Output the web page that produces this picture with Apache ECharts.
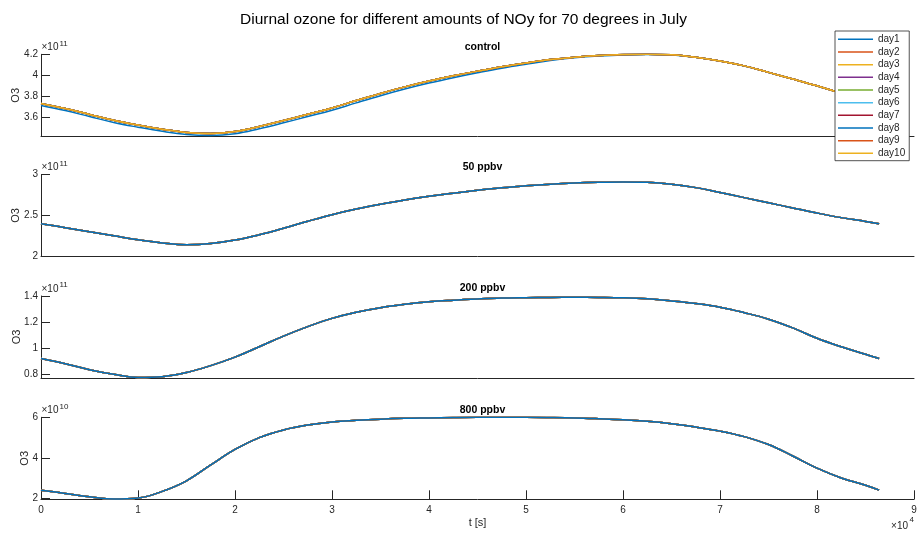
<!DOCTYPE html>
<html>
<head>
<meta charset="utf-8">
<title>Diurnal ozone</title>
<script src="https://cdn.jsdelivr.net/npm/echarts@6/dist/echarts.min.js"></script>
<style>
  html, body { margin: 0; padding: 0; background: #fff; }
  #chart { width: 917px; height: 533px; }
</style>
</head>
<body>
<div id="chart"></div>
<script>
// Time of day in seconds (one simulated day, 0 .. 86400 s)
const tSec = [0, 2500, 5000, 7500, 10000, 12500, 15000, 17500, 20000, 22500,
  25000, 27500, 30000, 32500, 35000, 37500, 40000, 42500, 45000, 47500,
  50000, 52500, 55000, 57500, 60000, 62500, 65000, 67500, 70000, 72500,
  75000, 77500, 80000, 82500, 85000, 86400];

// Ozone, control run (x 1e11); the first day sits a little below the rest
const ctlDay1 = [3.714, 3.665, 3.608, 3.552, 3.507, 3.467, 3.437, 3.428, 3.445, 3.492,
  3.548, 3.608, 3.668, 3.738, 3.806, 3.869, 3.926, 3.977, 4.024, 4.068,
  4.106, 4.141, 4.166, 4.183, 4.194, 4.198, 4.194, 4.171, 4.136, 4.089,
  4.027, 3.964, 3.899, 3.829, 3.764, 3.729];
const ctlLaterDays = [3.733, 3.685, 3.628, 3.572, 3.527, 3.487, 3.457, 3.447, 3.465, 3.513,
  3.570, 3.630, 3.690, 3.760, 3.828, 3.890, 3.946, 3.995, 4.040, 4.082,
  4.118, 4.150, 4.173, 4.188, 4.197, 4.200, 4.195, 4.172, 4.137, 4.090,
  4.028, 3.965, 3.900, 3.830, 3.765, 3.730];

// Ozone with 50 ppbv NOy (x 1e11), all days coincide
const ppb50 = [2.400, 2.352, 2.302, 2.252, 2.203, 2.165, 2.143, 2.158, 2.200, 2.265,
  2.345, 2.430, 2.510, 2.578, 2.637, 2.690, 2.735, 2.772, 2.807, 2.838,
  2.862, 2.882, 2.897, 2.906, 2.910, 2.905, 2.882, 2.840, 2.780, 2.718,
  2.655, 2.592, 2.530, 2.474, 2.428, 2.400];

// Ozone with 200 ppbv NOy (x 1e11)
const ppb200 = [0.920, 0.880, 0.834, 0.798, 0.774, 0.780, 0.812, 0.865, 0.930, 1.010,
  1.092, 1.165, 1.228, 1.275, 1.310, 1.336, 1.356, 1.368, 1.377, 1.384,
  1.387, 1.389, 1.390, 1.389, 1.386, 1.378, 1.362, 1.342, 1.314, 1.272,
  1.222, 1.155, 1.075, 1.010, 0.952, 0.920];

// Ozone with 800 ppbv NOy (x 1e10)
const ppb800 = [2.42, 2.26, 2.10, 1.98, 2.03, 2.36, 2.88, 3.66, 4.42, 5.00,
  5.38, 5.62, 5.77, 5.85, 5.91, 5.95, 5.97, 5.99, 6.00, 6.00,
  6.00, 5.99, 5.97, 5.93, 5.88, 5.80, 5.68, 5.52, 5.32, 5.05,
  4.66, 4.10, 3.50, 3.02, 2.66, 2.42];

const dayNames = ['day1', 'day2', 'day3', 'day4', 'day5', 'day6', 'day7', 'day8', 'day9', 'day10'];
const dayColors = ['#0072BD', '#D95319', '#EDB120', '#7E2F8E', '#77AC30', '#4DBEEE', '#A2142F',
  '#0072BD', '#D95319', '#EDB120'];

const panelTitles = ['control', '50 ppbv', '200 ppbv', '800 ppbv'];
const panelExponents = [11, 11, 11, 10];
const panelMin = [3.42, 2, 0.77, 1.97];
const panelMax = [4.2, 3, 1.4, 6];
const panelTicks = [[3.6, 3.8, 4, 4.2], [2, 2.5, 3], [0.8, 1, 1.2, 1.4], [2, 4, 6]];
const xTicks = [0, 1, 2, 3, 4, 5, 6, 7, 8, 9]; // x 1e4 s

// per-day ozone series of each panel
const panelDays = [
  dayNames.map((_, d) => d === 0 ? ctlDay1 : ctlLaterDays),
  dayNames.map(() => ppb50),
  dayNames.map(() => ppb200),
  dayNames.map(() => ppb800)
];

const FONT = '"Liberation Sans", Arial, Helvetica, sans-serif';
const AX = '#262626';
const gridTop = [54.3, 174.5, 296, 417.3];
const gridH = 82;
const gridLeft = 41;
const gridW = 873;
// horizontal centre of the rotated "O3" label, clear of each panel's tick labels
const yNameX = [16, 16, 17, 25];

const grids = [], xAxes = [], yAxes = [], series = [], titles = [], graphics = [];

titles.push({
  text: 'Diurnal ozone for different amounts of NOy for 70 degrees in July',
  left: 458.5, top: 7, textAlign: 'center',
  textStyle: { fontFamily: FONT, fontSize: 15.5, fontWeight: 'normal', color: '#000' }
});

panelTitles.forEach((name, p) => {
  const last = p === panelTitles.length - 1;
  grids.push({ left: gridLeft, top: gridTop[p], width: gridW, height: gridH,
    containLabel: false, outerBoundsMode: 'none' });

  xAxes.push({
    type: 'value', gridIndex: p, min: 0, max: 90000,
    axisLine: { show: true, onZero: false, lineStyle: { color: AX, width: 1 } },
    axisTick: { show: last, inside: true, length: 9, lineStyle: { color: AX, width: 1 },
      customValues: xTicks.map(v => v * 1e4) },
    axisLabel: { show: last, margin: 6, color: AX, fontFamily: FONT, fontSize: 10,
      customValues: xTicks.map(v => v * 1e4), formatter: v => String(v / 1e4) },
    splitLine: { show: false },
    name: last ? 't [s]' : '', nameLocation: 'middle', nameGap: 18,
    nameTextStyle: { color: AX, fontFamily: FONT, fontSize: 11 }
  });

  yAxes.push({
    type: 'value', gridIndex: p, min: panelMin[p], max: panelMax[p],
    axisLine: { show: true, onZero: false, lineStyle: { color: AX, width: 1 } },
    axisTick: { show: true, inside: true, length: 9, lineStyle: { color: AX, width: 1 },
      customValues: panelTicks[p] },
    axisLabel: { show: true, margin: 3, color: AX, fontFamily: FONT, fontSize: 10,
      customValues: panelTicks[p], formatter: v => String(v) },
    splitLine: { show: false }
  });

  titles.push({
    text: name, left: gridLeft + gridW / 2, top: gridTop[p] - 18, textAlign: 'center',
    textStyle: { fontFamily: FONT, fontSize: 10.5, fontWeight: 'bold', color: '#000' }
  });

  // y axis name, rotated
  graphics.push({
    type: 'text', x: yNameX[p], y: gridTop[p] + gridH / 2, rotation: Math.PI / 2,
    style: { text: 'O3', font: '11px ' + FONT, fill: AX, align: 'center', verticalAlign: 'middle' }
  });

  // axis exponent marker above each y axis
  graphics.push({
    type: 'text', left: gridLeft + 0.5, top: gridTop[p] - 12,
    style: { text: '×10', font: '10px ' + FONT, fill: AX }
  });
  graphics.push({
    type: 'text', left: gridLeft + 18.5, top: gridTop[p] - 15,
    style: { text: String(panelExponents[p]), font: '8px ' + FONT, fill: AX }
  });

  // control panel keeps day order; in the others the first day is drawn on top
  const order = p === 0 ? dayNames.map((_, d) => d) : dayNames.map((_, d) => dayNames.length - 1 - d);
  order.forEach(d => {
    series.push({
      name: dayNames[d], type: 'line', xAxisIndex: p, yAxisIndex: p,
      data: tSec.map((t, i) => [t, panelDays[p][d][i]]),
      showSymbol: false, smooth: 0.4,
      lineStyle: { color: dayColors[d], width: 1.5 },
      itemStyle: { color: dayColors[d] },
      emphasis: { disabled: true }, silent: true
    });
  });
});

// x axis exponent marker
graphics.push({
  type: 'text', right: 9, top: 521,
  style: { text: '×10', font: '10px ' + FONT, fill: AX }
});
graphics.push({
  type: 'text', right: 3, top: 516,
  style: { text: '4', font: '8px ' + FONT, fill: AX }
});

const chart = echarts.init(document.getElementById('chart'), null, { renderer: 'canvas' });
chart.setOption({
  animation: false,
  backgroundColor: '#fff',
  title: titles,
  grid: grids,
  xAxis: xAxes,
  yAxis: yAxes,
  legend: {
    data: dayNames,
    orient: 'vertical', left: 835, top: 31,
    padding: [2, 4, 1, 3],
    itemWidth: 35, itemHeight: 1.5, itemGap: 0,
    icon: 'rect',
    backgroundColor: '#fff', borderColor: AX, borderWidth: 0.8, borderRadius: 0,
    textStyle: { fontFamily: FONT, fontSize: 10, color: AX, lineHeight: 12.67 },
    selectedMode: false, z: 10
  },
  graphic: graphics,
  series: series
});
</script>
</body>
</html>
